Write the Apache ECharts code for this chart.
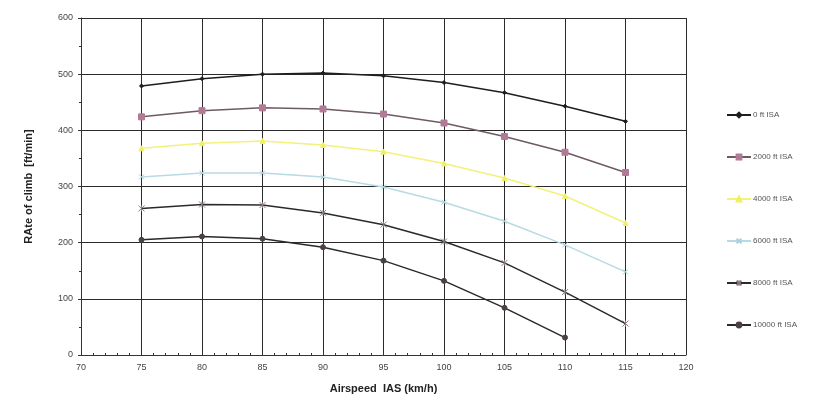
<!DOCTYPE html>
<html><head><meta charset="utf-8">
<script src="https://cdn.jsdelivr.net/npm/echarts@6/dist/echarts.min.js"></script>
<style>html,body{margin:0;padding:0;background:#fff}#c{width:814px;height:407px}</style>
</head><body><div id="c"></div>
<script>
const speeds = [75, 80, 85, 90, 95, 100, 105, 110, 115];
const seriesNames = ['0 ft ISA', '2000 ft ISA', '4000 ft ISA', '6000 ft ISA', '8000 ft ISA', '10000 ft ISA'];
const alt0 = [479, 492, 500, 502, 497, 485, 467, 443, 416];
const alt2000 = [424, 435, 440, 438, 429, 413, 389, 361, 325];
const alt4000 = [368, 377, 381, 374, 362, 341, 315, 283, 235];
const alt6000 = [317, 324, 324, 317, 299, 272, 238, 196, 148];
const alt8000 = [261, 268, 267, 253, 232, 202, 164, 112, 56];
const alt10000 = [205, 211, 207, 192, 168, 132, 84, 31];
const yTicks = [0, 100, 200, 300, 400, 500, 600];
const xTicks = [70, 75, 80, 85, 90, 95, 100, 105, 110, 115, 120];

const values = [alt0, alt2000, alt4000, alt6000, alt8000, alt10000];
const styles = [
  {line:'#1e1e1e', mark:'#1e1e1e', symbol:'diamond', size:4},
  {line:'#6e5a64', mark:'#b27a94', symbol:'rect', size:6},
  {line:'#f2f27a', mark:'#f0f060', symbol:'triangle', size:5},
  {line:'#b6dbe2', mark:'#a8d0da', symbol:'path://M0,0L10,10M10,0L0,10', size:5},
  {line:'#2a2a2a', mark:'#8a7a88', symbol:'path://M0,0L10,10M10,0L0,10M5,0L5,10', size:6},
  {line:'#2a2a2a', mark:'#4a4046', symbol:'circle', size:5}
];
const series = values.map((v, i) => ({
  name: seriesNames[i],
  type: 'line',
  data: v.map((y, j) => [speeds[j], y]),
  symbol: styles[i].symbol,
  symbolSize: styles[i].size,
  showSymbol: true,
  lineStyle: {color: styles[i].line, width: 1.5},
  itemStyle: {color: styles[i].mark, borderColor: styles[i].mark, borderWidth: 1},
  animation: false,
  z: 3
}));

const chart = echarts.init(document.getElementById('c'), null, {renderer: 'canvas'});
chart.setOption({
  backgroundColor: '#fff',
  animation: false,
  grid: {left: 81, right: 128, top: 18, bottom: 52},
  legend: {
    orient: 'vertical', left: 721, top: 106, itemGap: 34, itemWidth: 24, itemHeight: 6,
    textStyle: {fontSize: 8, color: '#555', fontFamily: 'Liberation Sans', padding: [0, 0, 0, -3]},
    data: seriesNames
  },
  xAxis: {
    type: 'value', min: xTicks[0], max: xTicks[xTicks.length - 1], interval: 5,
    name: 'Airspeed  IAS (km/h)', nameLocation: 'middle', nameGap: 28,
    nameTextStyle: {fontSize: 11, fontWeight: 'bold', color: '#222', fontFamily: 'Liberation Sans'},
    axisLine: {lineStyle: {color: '#333', width: 1}},
    axisTick: {show: true, inside: true, length: 3, lineStyle: {color: '#333'}},
    minorTick: {show: true, splitNumber: 5, length: 2, lineStyle: {color: '#333'}},
    axisLabel: {fontSize: 9, color: '#444', fontFamily: 'Liberation Sans', margin: 8},
    splitLine: {show: true, lineStyle: {color: '#2a2a2a', width: 1}}
  },
  yAxis: {
    type: 'value', min: yTicks[0], max: yTicks[yTicks.length - 1], interval: 100,
    name: 'RAte of climb  [ft/min]', nameLocation: 'middle', nameGap: 47, nameRotate: 90,
    nameTextStyle: {fontSize: 11, fontWeight: 'bold', color: '#222', fontFamily: 'Liberation Sans'},
    axisLine: {show: true, lineStyle: {color: '#333', width: 1}},
    axisTick: {show: true, length: 3, lineStyle: {color: '#333'}},
    minorTick: {show: true, splitNumber: 2, length: 2, lineStyle: {color: '#333'}},
    axisLabel: {fontSize: 9, color: '#444', fontFamily: 'Liberation Sans', margin: 8},
    splitLine: {show: true, lineStyle: {color: '#2a2a2a', width: 1}}
  },
  series: series
});
</script></body></html>
